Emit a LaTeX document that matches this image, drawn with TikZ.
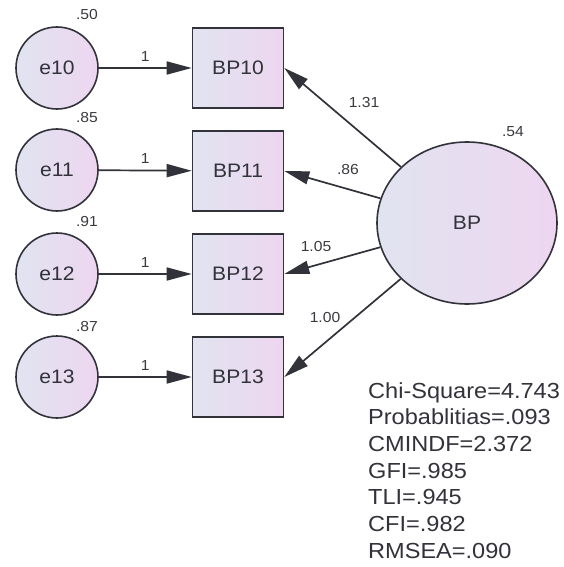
\documentclass[tikz,border=0pt]{standalone}
\usepackage{fontspec}
\setmainfont{Liberation Sans}
\newfontfamily\widesans[FakeStretch=1.08]{Liberation Sans}
\usetikzlibrary{arrows.meta,shapes.geometric}
\definecolor{edgegray}{RGB}{50,50,58}
\definecolor{fillleft}{RGB}{224,228,240}
\definecolor{fillright}{RGB}{238,214,240}
\definecolor{labelgray}{RGB}{58,58,64}
\tikzset{
  varfont/.style={font=\widesans\fontsize{19.5}{22}\selectfont, text=edgegray},
  errvar/.style={circle, draw=edgegray, line width=1.6pt, minimum size=82pt, inner sep=0pt,
    left color=fillleft, right color=fillright, varfont},
  obsvar/.style={rectangle, draw=edgegray, line width=1.6pt, minimum width=91pt, minimum height=80pt,
    inner sep=0pt, left color=fillleft, right color=fillright, varfont},
  latvar/.style={ellipse, draw=edgegray, line width=1.6pt, minimum width=180pt, minimum height=162pt,
    inner sep=0pt, left color=fillleft, right color=fillright, varfont},
  path/.style={draw=edgegray, line width=1.7pt, -{Triangle[length=25pt,width=13pt]}},
  est/.style={font=\widesans\fontsize{14.5}{16}\selectfont, text=labelgray, inner sep=0pt},
  fitstats/.style={font=\widesans\fontsize{21.8}{26.7}\selectfont, text=edgegray, align=left,
    anchor=north west, inner sep=0pt}
}
\begin{document}
\begin{tikzpicture}[x=1pt,y=-1pt]
\useasboundingbox[fill=white] (0,0) rectangle (564,567);

% error terms
\node[errvar] (e10) at (57,68) {e10};
\node[errvar] (e11) at (57,170) {e11};
\node[errvar] (e12) at (57,274) {e12};
\node[errvar] (e13) at (57,377) {e13};

% observed indicators
\node[obsvar] (bp10) at (238,68) {BP10};
\node[obsvar] (bp11) at (238,171) {BP11};
\node[obsvar] (bp12) at (238,274) {BP12};
\node[obsvar] (bp13) at (238,377) {BP13};

% latent factor
\node[latvar] (bp) at (467,223) {BP};

% error variances
\node[est] (v10) at (87,15) {.50};
\node[est] (v11) at (87,118) {.85};
\node[est] (v12) at (87,222) {.91};
\node[est] (v13) at (87,327) {.87};
\node[est] (vbp) at (513,132) {.54};

% error paths
\draw[path] (e10) -- node[est, above=6pt] (w10) {1} (bp10);
\draw[path] (e11) -- node[est, above=6pt] (w11) {1} (bp11);
\draw[path] (e12) -- node[est, above=6pt] (w12) {1} (bp12);
\draw[path] (e13) -- node[est, above=6pt] (w13) {1} (bp13);

% factor loadings
\draw[path] (bp) -- (bp10.east);
\draw[path] (bp) -- (bp11.east);
\draw[path] (bp) -- (bp12.east);
\draw[path] (bp) -- (bp13.east);
\node[est] (l10) at (364,103) {1.31};
\node[est] (l11) at (348,170) {.86};
\node[est] (l12) at (316,247) {1.05};
\node[est] (l13) at (325,318) {1.00};

% model fit
\node[fitstats] (fit) at (368,382) {Chi-Square=4.743\\Probablitias=.093\\CMINDF=2.372\\GFI=.985\\TLI=.945\\CFI=.982\\RMSEA=.090};
\end{tikzpicture}
\end{document}
